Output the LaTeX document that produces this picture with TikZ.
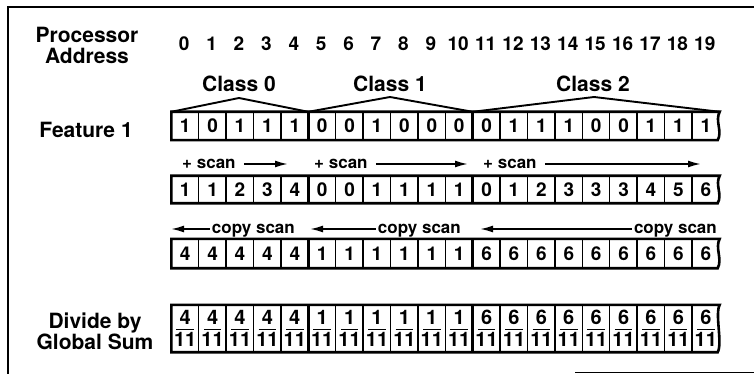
\documentclass[tikz,border=0pt]{standalone}
\usepackage{fontspec}
\setmainfont{TeX Gyre Heros}
\usetikzlibrary{arrows.meta,positioning,calc}

% fraction set inside one cell
\newcommand{\cellfrac}[2]{%
  \renewcommand{\arraystretch}{0}%
  \fontsize{20}{20}\selectfont
  \begin{tabular}{@{}c@{}}\rule[-4pt]{0pt}{15pt}#1\\
    \rule{17.5pt}{1.5pt}\\
    \rule{0pt}{16pt}\makebox[17.5pt]{#2}\end{tabular}}
\newcommand{\cellplain}[1]{#1}
\newcommand{\elevenths}[1]{\cellfrac{#1}{11}}

\tikzset{
  >={Latex[length=13pt,width=7pt]},
  rowlabel/.style={font=\fontsize{21}{21}\selectfont\bfseries,align=center,inner sep=0pt},
  addr/.style={font=\fontsize{19}{19}\selectfont\bfseries,inner sep=0pt},
  cell/.style={minimum width=27.4pt,inner sep=0pt,font=\fontsize{19}{19}\selectfont\bfseries},
  rowbox/.style={line width=2.6pt,line join=miter},
  sep/.style={line width=1.3pt},
  classsep/.style={line width=2.6pt},
  roof/.style={line width=1.9pt,line join=round},
  scantext/.style={font=\fontsize{17}{17}\selectfont\bfseries,inner sep=1pt,text height=8.5pt,text depth=0pt},
  plusarrow/.style={->,line width=1.8pt,shorten <=7pt},
  copyarrow/.style={->,line width=1.8pt,shorten <=1pt},
  frameline/.style={line width=2pt}
}

% one row of 20 processors: [format] name, top, height, values
\newcommand{\cellrow}[5][\cellplain]{%
  \foreach \v [count=\i from 0] in {#5}
    \node[cell,minimum height=#4pt] (#2-\i) at ({171.5+27.4*(\i+0.5)},{#3+#4/2}) {#1{\v}};
  \foreach \i in {1,...,19}
    \draw[sep] (#2-\i.north west) -- (#2-\i.south west);
  \foreach \i in {5,11}
    \draw[classsep] (#2-\i.north west) -- (#2-\i.south west);
  \draw[rowbox] (#2-0.north west) -- (#2-19.north east)
    .. controls +(-5,9) and +(5,-9) .. ([xshift=-2pt]#2-19.south east)
    -- (#2-0.south west) -- cycle;
}

\begin{document}
\begin{tikzpicture}[x=1pt,y=-1pt]
  \useasboundingbox (0,0) rectangle (754,374);
  % frame
  \draw[frameline] (8,374) -- (8,7) -- (754,7);
  \draw[line width=1pt] (575,372) -- (754,372);

  % labels on the left
  \node[rowlabel] (proc) at (87,45) {Processor\\Address};
  \node[rowlabel] (feat) at (86,130) {Feature 1};
  \node[rowlabel] (divide) at (95,331) {Divide by\\Global Sum};

  % processor addresses
  \foreach \i in {0,...,19}
    \node[addr] (a-\i) at ({171.5+27.4*(\i+0.5)-1},44) {\i};

  % classes
  \node[rowlabel] (class0) at (239,84) {Class 0};
  \node[rowlabel] (class1) at (390,84) {Class 1};
  \node[rowlabel] (class2) at (593,84) {Class 2};

  \cellrow{f}{112}{28}{1,0,1,1,1,0,0,1,0,0,0,0,1,1,1,0,0,1,1,1}

  \coordinate (apex0) at (239,98);
  \coordinate (apex1) at (390,97);
  \coordinate (apex2) at (594,97);
  \draw[roof] (f-0.north west) -- (apex0) -- (f-5.north west) -- (apex1)
    -- (f-11.north west) -- (apex2) -- (f-19.north east);

  % + scan
  \foreach \n/\xl/\xr in {0/181/288,1/313/468,2/482/701}{
    \node[scantext,anchor=west] (plus\n) at (\xl,164) {+ scan};
    \coordinate (plus\n-tip) at (\xr,164);
    \draw[plusarrow] (plus\n) -- (plus\n-tip);
  }

  \cellrow{s}{176}{27}{1,1,2,3,4,0,0,1,1,1,1,0,1,2,3,3,3,4,5,6}

  % copy scan
  \foreach \n/\xr/\xl in {0/296/171,1/462/310,2/718/480}{
    \node[scantext,anchor=east] (copy\n) at (\xr,229) {copy scan};
    \coordinate (copy\n-tip) at (\xl,229);
    \draw[copyarrow] (copy\n) -- (copy\n-tip);
  }

  \cellrow{c}{239}{29}{4,4,4,4,4,1,1,1,1,1,1,6,6,6,6,6,6,6,6,6}

  \cellrow[\elevenths]{d}{305}{47}{4,4,4,4,4,1,1,1,1,1,1,6,6,6,6,6,6,6,6,6}
\end{tikzpicture}
\end{document}
